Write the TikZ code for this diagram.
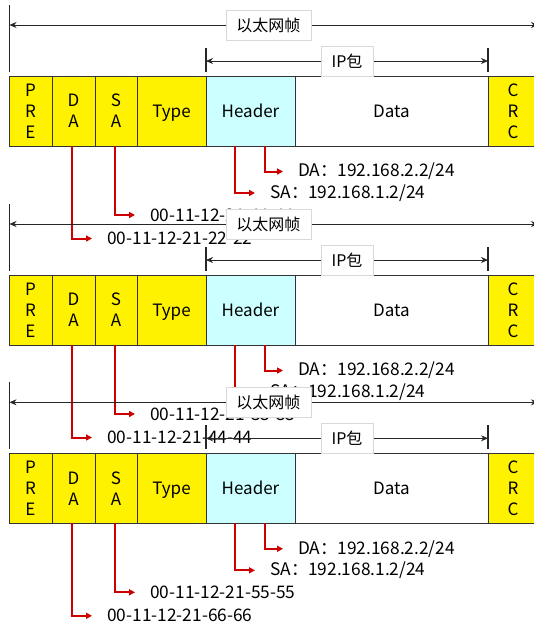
\documentclass[tikz,border=0pt]{standalone}
\usepackage{fontspec}
\setmainfont{Noto Sans CJK SC}
\usepackage{xcolor}
\usetikzlibrary{arrows.meta,positioning}
\definecolor{hopred}{RGB}{204,0,0}
\definecolor{hdrcyan}{RGB}{204,255,255}

\begin{document}
\begin{tikzpicture}[x=1pt,y=-1pt,>={Stealth[length=7pt,width=6pt]}]
\tikzset{
  field/.style={draw=black!80,line width=1pt,minimum height=70pt,inner sep=0pt,outer sep=0pt,align=center,font=\fontsize{17}{21}\selectfont},
  ethfield/.style={field,fill=yellow},
  oneline/.style={text height=12.4pt,text depth=0pt},
  tag/.style={draw=black!15,fill=white,line width=0.8pt,minimum height=30pt,inner sep=0pt,font=\fontsize{16}{18}\selectfont},
  span/.style={draw=black!85,line width=0.8pt},
  tick/.style={draw=black!85,line width=1.2pt},
  hop/.style={draw=hopred,line width=2pt,-{Triangle[length=6pt,width=6pt]},shorten >=15pt},
  addr/.style={anchor=west,inner sep=0pt,font=\fontsize{17.3}{19}\selectfont}
}
\useasboundingbox (0,0) rectangle (534,625);
\clip (0,0) rectangle (534,625);
\fill[white] (0,0) rectangle (534,625);
\foreach \n/\y/\sa/\da in {a/0/11-11/22-22,b/199/33-33/44-44,c/377.3/55-55/66-66}{
\begin{scope}[yshift=-\y pt]
\node[ethfield,minimum width=43pt,anchor=north west] (\n-pre) at (9,76) {P\\R\\E};
\node[ethfield,minimum width=43pt,right=0pt of \n-pre] (\n-da) {D\\A};
\node[ethfield,minimum width=42pt,right=0pt of \n-da] (\n-sa) {S\\A};
\node[ethfield,oneline,minimum width=69pt,right=0pt of \n-sa] (\n-type) {Type};
\node[field,oneline,fill=hdrcyan,minimum width=89pt,right=0pt of \n-type] (\n-hdr) {Header};
\node[field,oneline,fill=white,minimum width=193pt,right=0pt of \n-hdr] (\n-data) {Data};
\node[ethfield,minimum width=50pt,right=0pt of \n-data] (\n-crc) {C\\R\\C};
\draw[tick] (9.5,5) -- (9.5,72);
\draw[tick] (538,5) -- (538,72);
\coordinate (\n-fl) at (9.5,25);
\coordinate (\n-fr) at (538,25);
\draw[span,<->] (\n-fl) -- node[tag,minimum width=85pt,pos=0.49] (\n-eth) {以太网帧} (\n-fr);
\draw[tick] (206,48) -- (206,72);
\draw[tick] (488,48) -- (488,72);
\coordinate (\n-il) at (206,61);
\coordinate (\n-ir) at (488,61);
\draw[span,<->] (\n-il) -- node[tag,minimum width=52pt] (\n-ip) {IP包} (\n-ir);
\node[addr] (\n-ipda) at (298,171.5) {DA：192.168.2.2/24};
\node[addr] (\n-ipsa) at (270,193) {SA：192.168.1.2/24};
\node[addr] (\n-samac) at (150,215) {00-11-12-21-\sa};
\node[addr] (\n-damac) at (107,238.5) {00-11-12-21-\da};
\draw[hop] ([xshift=14.5pt]\n-hdr.south) |- (\n-ipda.west);
\draw[hop] ([xshift=-15.5pt]\n-hdr.south) |- (\n-ipsa.west);
\draw[hop] ([xshift=-1pt]\n-sa.south) |- (\n-samac.west);
\draw[hop] ([xshift=-1.5pt]\n-da.south) |- (\n-damac.west);
\end{scope}}
\end{tikzpicture}
\end{document}
